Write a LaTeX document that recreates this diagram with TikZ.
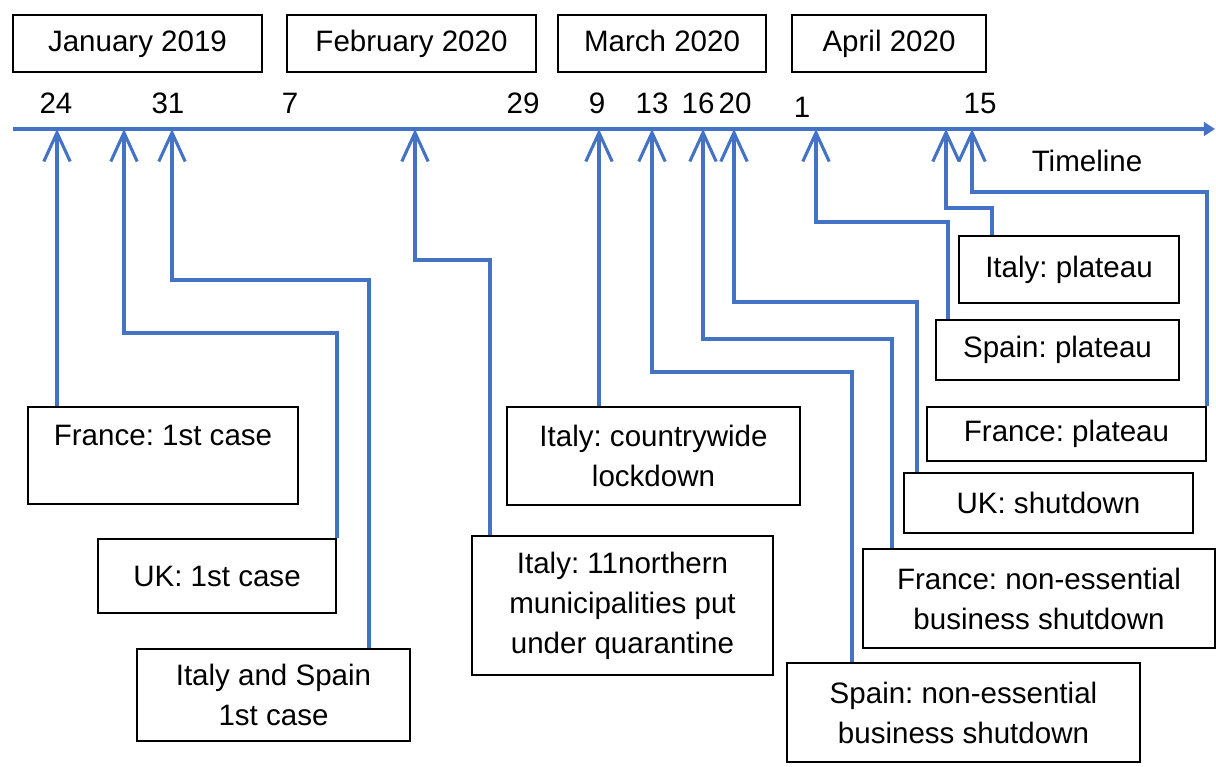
\documentclass[tikz,border=0pt]{standalone}
\usepackage{fontspec}
\setmainfont{Liberation Sans}
\usetikzlibrary{arrows.meta,positioning}
\definecolor{lineblue}{HTML}{4472C4}
\frenchspacing

\begin{document}
\begin{tikzpicture}[x=0.025cm,y=-0.025cm,
  font=\fontsize{21}{28.5}\selectfont,
  box/.style={draw=black,line width=1.4pt,align=center,inner sep=2pt},
  month/.style={box,text height=1.2em,text depth=0.05em},
  sz/.style 2 args={minimum width=#1*0.025cm,minimum height=#2*0.025cm},
  link/.style={draw=lineblue,line width=2.2pt,-{Straight Barb[length=0.72cm,width=0.66cm]}},
  day/.style={inner sep=0pt}]
  \useasboundingbox (0,0) rectangle (1216,767);

  % months
  \node[month,sz={249}{57}] (jan) at (137.5,43.5) {January 2019};
  \node[month,sz={249}{57}] (feb) at (411.5,43.5) {February 2020};
  \node[month,sz={208}{57}] (mar) at (662,43.5) {March 2020};
  \node[month,sz={194}{57}] (apr) at (889,43.5) {April 2020};

  % days
  \foreach \d/\x in {24/56,31/168,7/290,29/523,9/597,13/652,16/698,20/735,15/980}
    \node[day] (d\d) at (\x,103) {\d};
  \node[day] (d1) at (802,107) {1};

  % timeline
  \coordinate (tlStart) at (13,129);
  \coordinate (tlEnd) at (1215,129);
  \draw[draw=lineblue,line width=2.2pt,-{Triangle[length=0.28cm,width=0.34cm]}] (tlStart) -- (tlEnd);
  \node (tlLabel) at (1087,161) {Timeline};

  \foreach \n/\x in {Fr1/57,Uk1/124,ItEs1/172,ItN/415,ItL/599,EsS/652,FrS/703,UkS/734,EsP/816,ItP/946,FrP/972}
    \coordinate (t\n) at (\x,129);

  % events
  \node[box,sz={270}{97}] (fr1) at (163,455.5) {France: 1st case\\ \mbox{}};
  \node[box,sz={238}{74}] (uk1) at (217,576) {UK: 1st case};
  \node[box,sz={273}{92}] (ites1) at (273.5,695) {Italy and Spain\\1st case};
  \node[box,sz={293}{98}] (itl) at (653.5,456) {Italy: countrywide\\lockdown};
  \node[box,sz={301}{139}] (itn) at (622.5,605.5) {Italy: 11northern\\municipalities put\\under quarantine};
  \node[box,sz={353}{99}] (esS) at (963.5,712.5) {Spain: non-essential\\business shutdown};
  \node[box,sz={352}{99}] (frS) at (1039,598.5) {France: non-essential\\business shutdown};
  \node[box,sz={289}{60}] (ukS) at (1048.5,503) {UK: shutdown};
  \node[box,sz={279}{54}] (frP) at (1066.5,434) {France: plateau};
  \node[box,sz={243}{60}] (esP) at (1057.5,350) {Spain: plateau};
  \node[box,sz={220}{67}] (itP) at (1069,269.5) {Italy: plateau};

  % connectors
  \draw[link] (fr1.north -| tFr1) -- (tFr1);
  \draw[link] (uk1.north east) -- ++(0,-205) -| (tUk1);
  \draw[link] (ites1.north -| 369,0) -- ++(0,-368) -| (tItEs1);
  \draw[link] (itn.north -| 490,0) -- ++(0,-275) -| (tItN);
  \draw[link] (itl.north -| tItL) -- (tItL);
  \draw[link] (esS.north -| 852,0) -- ++(0,-290) -| (tEsS);
  \draw[link] (frS.north -| 892,0) -- ++(0,-209) -| (tFrS);
  \draw[link] (ukS.north -| 917,0) -- ++(0,-170) -| (tUkS);
  \draw[link] (esP.north -| 948,0) -- ++(0,-97) -| (tEsP);
  \draw[link] (itP.north -| 992,0) -- ++(0,-27) -| (tItP);
  \draw[link] (frP.north east) -- ++(0,-214) -| (tFrP);
\end{tikzpicture}
\end{document}
